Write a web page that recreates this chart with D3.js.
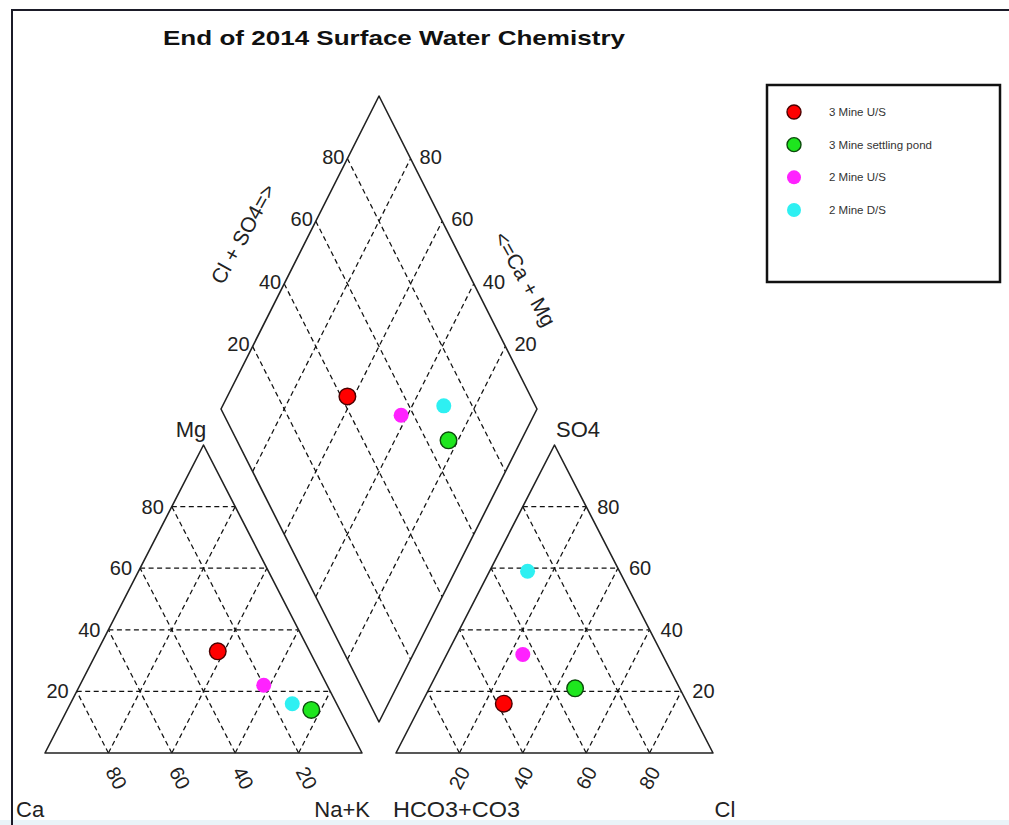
<!DOCTYPE html>
<html>
<head>
<meta charset="utf-8">
<script src="https://cdn.jsdelivr.net/npm/d3@7"></script>
<style>
  html, body { margin: 0; padding: 0; background: #fff; }
  svg { display: block; }
  text { font-family: "Liberation Sans", Arial, sans-serif; fill: #222; }
</style>
</head>
<body>
<script>
// Sample sites
const samples = ["3 Mine U/S", "3 Mine settling pond", "2 Mine U/S", "2 Mine D/S"];
const fills   = ["#ff0000", "#1ee61e", "#ff22ff", "#2ef0f2"];
const strokes = ["#4a0000", "#0b4a0b", "none", "none"];
const radii   = [8.3, 8.3, 7.5, 7.5];

// Cations, % meq
const ca  = [29, 9, 20, 14];
const mg  = [33, 14, 22, 16];
const nak = [38, 77, 58, 70];

// Anions, % meq
const hco3 = [58, 33, 44, 29];
const so4  = [16, 21, 32, 59];
const cl   = [26, 46, 24, 12];

const gridTicks = [20, 40, 60, 80];
const title = "End of 2014 Surface Water Chemistry";

const W = 1009, H = 825;
const svg = d3.select("body").append("svg").attr("width", W).attr("height", H);

// frame
svg.append("rect").attr("x", 0).attr("y", H - 5).attr("width", W).attr("height", 5).attr("fill", "#eaf4f8");
svg.append("path").attr("d", `M12,${H} V10 H${W}`).attr("fill", "none")
  .attr("stroke", "#1b1b28").attr("stroke-width", 2);

// scales: triangles share a vertical percentage scale
const yTri = d3.scaleLinear().domain([0, 100]).range([753, 445]);
const xCat = d3.scaleLinear().domain([0, 100]).range([45, 362]);
const xAn  = d3.scaleLinear().domain([0, 100]).range([396, 713]);
// diamond: horizontal = (Cl+SO4 - (Ca+Mg))/2, vertical = Cl+SO4 + Ca+Mg
const xDia = d3.scaleLinear().domain([-50, 50]).range([221, 537]);
const yDia = d3.scaleLinear().domain([0, 200]).range([722, 96]);

const catPt = (m, n) => [xCat(n + m / 2), yTri(m)];        // m = Mg, n = Na+K
const anPt  = (s, c) => [xAn(c + s / 2), yTri(s)];         // s = SO4, c = Cl
const diaPt = (cm, cs) => [xDia((cs - cm) / 2), yDia(cs + cm)]; // cm = Ca+Mg, cs = Cl+SO4

const line = d3.line();
const gGrid = svg.append("g").attr("fill", "none").attr("stroke", "#111")
  .attr("stroke-width", 1.25).attr("stroke-dasharray", "5,3.5");
const gEdge = svg.append("g").attr("fill", "none").attr("stroke", "#222").attr("stroke-width", 1.6)
  .attr("stroke-linejoin", "round");

// triangle grids
function triGrid(pt) {
  gridTicks.forEach(k => {
    // apex component constant (horizontal)
    gGrid.append("path").attr("d", line([pt(k, 0), pt(k, 100 - k)]));
    // left-corner component constant
    gGrid.append("path").attr("d", line([pt(0, 100 - k), pt(100 - k, 0)]));
    // right-corner component constant
    gGrid.append("path").attr("d", line([pt(0, k), pt(100 - k, k)]));
  });
  gEdge.append("path").attr("d", line([pt(0, 0), pt(0, 100), pt(100, 0)]) + "Z");
}
triGrid(catPt);
triGrid(anPt);

// diamond grid
gridTicks.forEach(k => {
  gGrid.append("path").attr("d", line([diaPt(100, k), diaPt(0, k)]));
  gGrid.append("path").attr("d", line([diaPt(k, 0), diaPt(k, 100)]));
});
gEdge.append("path").attr("d", line([diaPt(0, 0), diaPt(100, 0), diaPt(100, 100), diaPt(0, 100)]) + "Z");

// tick labels
const gLab = svg.append("g").style("font-size", "20px");
gridTicks.forEach(k => {
  // cation: Mg on left edge
  let p = catPt(k, 0);
  gLab.append("text").attr("x", p[0] - 8).attr("y", p[1]).attr("dy", "0.35em")
    .attr("text-anchor", "end").text(k);
  // cation: Ca along base
  p = catPt(0, 100 - k);
  gLab.append("text").attr("text-anchor", "middle").attr("dy", "0.35em")
    .attr("transform", `translate(${p[0] + 8},${p[1] + 25}) rotate(62)`).text(k);
  // anion: SO4 on right edge
  p = anPt(k, 100 - k);
  gLab.append("text").attr("x", p[0] + 11).attr("y", p[1]).attr("dy", "0.35em")
    .attr("text-anchor", "start").text(k);
  // anion: Cl along base
  p = anPt(0, k);
  gLab.append("text").attr("text-anchor", "middle").attr("dy", "0.35em")
    .attr("transform", `translate(${p[0]},${p[1] + 25}) rotate(-62)`).text(k);
  // diamond: Cl+SO4 on upper-left edge
  p = diaPt(100, k);
  gLab.append("text").attr("x", p[0] - 3).attr("y", p[1] - 2).attr("dy", "0.35em")
    .attr("text-anchor", "end").text(k);
  // diamond: Ca+Mg on upper-right edge
  p = diaPt(k, 100);
  gLab.append("text").attr("x", p[0] + 9).attr("y", p[1] - 2).attr("dy", "0.35em")
    .attr("text-anchor", "start").text(k);
});

// axis titles
const gAx = svg.append("g").style("font-size", "21px");
gAx.append("text").attr("text-anchor", "middle").attr("dy", "0.35em")
  .attr("transform", "translate(243,234) rotate(-61)").text("Cl + SO4=>");
gAx.append("text").attr("text-anchor", "middle").attr("dy", "0.35em")
  .attr("transform", "translate(525,279) rotate(61)").text("<=Ca + Mg");
const gCorner = svg.append("g").style("font-size", "22px");
gCorner.append("text").attr("x", 191).attr("y", 437).attr("text-anchor", "middle").text("Mg");
gCorner.append("text").attr("x", 578).attr("y", 437).attr("text-anchor", "middle").text("SO4");
gCorner.append("text").attr("x", 16).attr("y", 817).text("Ca");
gCorner.append("text").attr("x", 370).attr("y", 817).attr("text-anchor", "end").text("Na+K");
gCorner.append("text").attr("x", 393).attr("y", 817).attr("textLength", 127)
  .attr("lengthAdjust", "spacingAndGlyphs").text("HCO3+CO3");
gCorner.append("text").attr("x", 725).attr("y", 817).attr("text-anchor", "middle").text("Cl");

// title
svg.append("text").attr("x", 163).attr("y", 45)
  .attr("textLength", 462).attr("lengthAdjust", "spacingAndGlyphs")
  .style("font-size", "21px").style("font-weight", "bold").style("fill", "#111").text(title);

// data points
const idx = d3.range(samples.length);
const gPts = svg.append("g");
function drawPts(posFn) {
  gPts.selectAll(null).data(idx).join("circle")
    .attr("cx", i => posFn(i)[0]).attr("cy", i => posFn(i)[1])
    .attr("r", i => radii[i])
    .attr("fill", i => fills[i])
    .attr("stroke", i => strokes[i]).attr("stroke-width", 1.4);
}
drawPts(i => catPt(mg[i], nak[i]));
drawPts(i => anPt(so4[i], cl[i]));
drawPts(i => diaPt(ca[i] + mg[i], cl[i] + so4[i]));

// legend
const lg = svg.append("g");
lg.append("rect").attr("x", 767).attr("y", 85).attr("width", 233).attr("height", 197)
  .attr("fill", "#fff").attr("stroke", "#111").attr("stroke-width", 2.5);
const legendY = d3.scalePoint().domain(samples).range([112, 210]);
samples.forEach((s, i) => {
  lg.append("circle").attr("cx", 794).attr("cy", legendY(s)).attr("r", 7)
    .attr("fill", fills[i]).attr("stroke", strokes[i]).attr("stroke-width", 1.4);
  lg.append("text").attr("x", 829).attr("y", legendY(s)).attr("dy", "0.35em")
    .style("font-size", "11.5px").style("fill", "#333").text(s);
});
</script>
</body>
</html>
